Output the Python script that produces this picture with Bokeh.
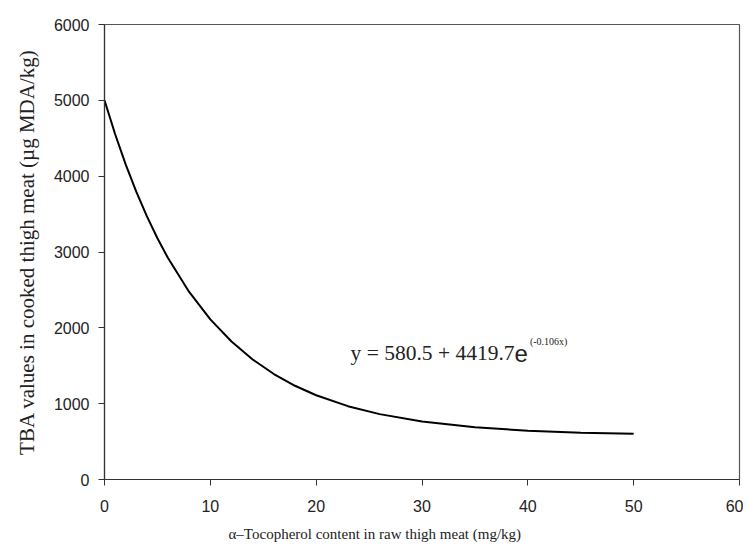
from bokeh.plotting import figure
from bokeh.models import Range1d, Label, FixedTicker, Title
from bokeh.embed import file_html
from bokeh.resources import INLINE

# Curve values (fitted curve y = 580.5 + 4419.7 e^(-0.106x))
tocopherol = [0, 1, 2, 3, 4, 5, 6, 8, 10, 12, 14, 16, 18, 20, 23, 26, 30, 35, 40, 45, 50]
tba = [5000, 4556, 4156, 3796, 3473, 3182, 2920, 2473, 2112, 1819, 1583, 1391,
       1236, 1111, 967, 862, 764, 689, 644, 618, 603]

x_ticks = [0, 10, 20, 30, 40, 50, 60]
y_ticks = [0, 1000, 2000, 3000, 4000, 5000, 6000]

x_label = "\u03b1\u2013Tocopherol content in raw thigh meat (mg/kg)"
y_label = "TBA values in cooked thigh meat (\u00b5g MDA/kg)"
eq_main = "y = 580.5 + 4419.7"
eq_e = "e"
eq_sup = "(-0.106x)"

p = figure(frame_width=635, frame_height=455, output_backend="svg",
           toolbar_location=None, x_range=Range1d(0, 60), y_range=Range1d(0, 6000),
           min_border_left=104, min_border_right=4, min_border_top=24, min_border_bottom=12)
p.background_fill_color = "white"
p.border_fill_color = "white"
p.grid.visible = False
p.outline_line_color = "#555555"
p.outline_line_width = 1.2

p.line(tocopherol, tba, line_color="black", line_width=2)

for ax in (p.xaxis[0], p.yaxis[0]):
    ax.axis_line_color = "#333333"
    ax.axis_line_width = 1.2
    ax.major_tick_line_color = "#333333"
    ax.major_tick_out = 6
    ax.major_tick_in = 0
    ax.minor_tick_line_color = None
    ax.major_label_text_font = "Liberation Sans"
    ax.major_label_text_font_size = "16px"
    ax.major_label_text_color = "#222222"

p.xaxis[0].ticker = FixedTicker(ticks=x_ticks)
p.yaxis[0].ticker = FixedTicker(ticks=y_ticks)
p.xaxis[0].major_label_standoff = 14
p.yaxis[0].major_label_standoff = 9

p.yaxis[0].axis_label = y_label
p.yaxis[0].axis_label_text_font = "Liberation Serif"
p.yaxis[0].axis_label_text_font_style = "normal"
p.yaxis[0].axis_label_text_font_size = "21px"
p.yaxis[0].axis_label_text_color = "#222222"
p.yaxis[0].axis_label_standoff = 12

p.add_layout(Title(text=x_label, text_font="Liberation Serif", text_font_size="15px",
                   text_font_style="normal", text_color="#222222", align="left",
                   offset=124, standoff=18), "below")

p.add_layout(Label(x=23.25, y=1662, text=eq_main, text_font="Liberation Serif",
                   text_font_size="21.5px", text_align="left", text_baseline="alphabetic",
                   text_color="#222222"))
p.add_layout(Label(x=38.74, y=1662, text=eq_e, text_font="Liberation Sans",
                   text_font_size="24px", text_align="left", text_baseline="alphabetic",
                   text_color="#222222"))
p.add_layout(Label(x=40.2, y=1820, text=eq_sup, text_font="Liberation Serif",
                   text_font_size="10px", text_align="left", text_baseline="alphabetic",
                   text_color="#222222"))

open("out.html", "w").write(file_html(p, INLINE))
